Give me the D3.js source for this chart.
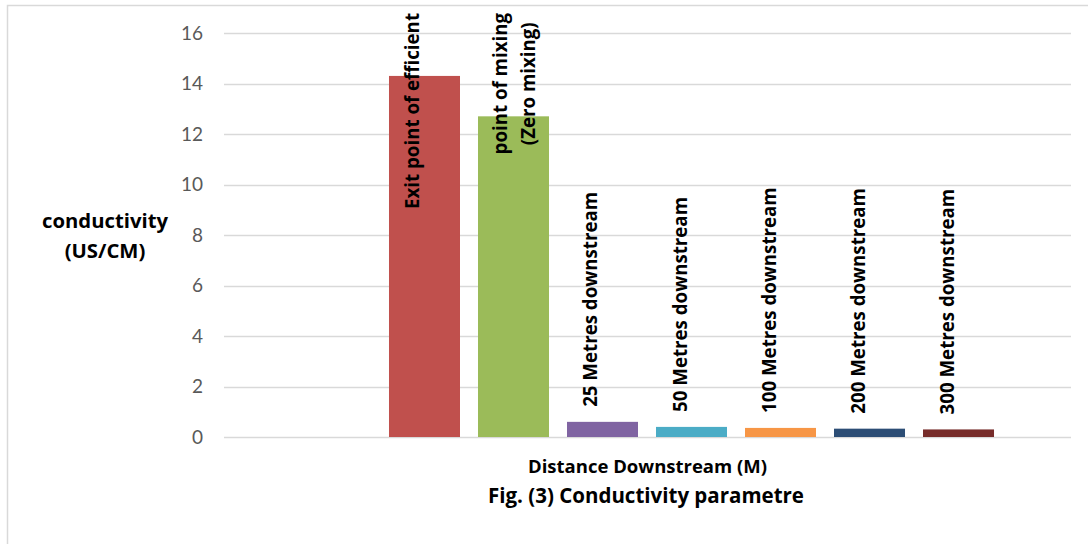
<!DOCTYPE html>
<html>
<head>
<meta charset="utf-8">
<script src="https://cdn.jsdelivr.net/npm/d3@7"></script>
<style>
  html, body { margin: 0; padding: 0; background: #fff; }
  svg { display: block; }
</style>
</head>
<body>
<svg id="chart" width="1088" height="544"></svg>
<script>
// Conductivity readings along the stream
const categories = [
  "Exit point of efficient",
  "point of mixing\n(Zero mixing)",
  "25 Metres downstream",
  "50 Metres downstream",
  "100 Metres downstream",
  "200 Metres downstream",
  "300 Metres downstream"
];
const values = [14.3, 12.7, 0.6, 0.4, 0.36, 0.33, 0.3];
const colors = ["#C0504D", "#9BBB59", "#8064A2", "#4BACC6", "#F79646", "#2C4D75", "#772C2A"];
const yTicks = [0, 2, 4, 6, 8, 10, 12, 14, 16];

const yTitle = ["conductivity", "(US/CM)"];
const xTitle = "Distance Downstream (M)";
const figTitle = "Fig. (3) Conductivity parametre";

const svg = d3.select("#chart");
const FONT = "'Open Sans', Lato, 'Liberation Sans', sans-serif";
const TICK_FONT = "Lato, 'Open Sans', sans-serif";

// outer frame (top and left edges)
svg.append("path")
  .attr("d", "M7.5,544 L7.5,5.5 L1088,5.5")
  .attr("fill", "none")
  .attr("stroke", "#d9d9d9")
  .attr("stroke-width", 1.5);

const plot = { left: 224, right: 1071, top: 33, bottom: 437 };

const y = d3.scaleLinear().domain([0, 16]).range([plot.bottom, plot.top]);
const x = d3.scaleBand()
  .domain(categories)
  .range([380, 1003])
  .paddingInner(0.2022)
  .paddingOuter(0.101);

// gridlines
svg.append("g")
  .selectAll("line")
  .data(yTicks)
  .join("line")
  .attr("x1", plot.left).attr("x2", plot.right)
  .attr("y1", d => Math.round(y(d)) + 0.5).attr("y2", d => Math.round(y(d)) + 0.5)
  .attr("stroke", "#d9d9d9")
  .attr("stroke-width", 1.5);

// y axis tick labels
const yAxis = d3.axisLeft(y).tickValues(yTicks).tickSize(0).tickPadding(0);
const gy = svg.append("g").attr("transform", "translate(203,0)").call(yAxis);
gy.select(".domain").remove();
gy.selectAll("text")
  .attr("font-family", TICK_FONT)
  .attr("font-size", 19)
  .attr("fill", "#595959");

// bars
svg.append("g")
  .selectAll("rect")
  .data(categories)
  .join("rect")
  .attr("x", d => x(d))
  .attr("width", x.bandwidth())
  .attr("y", (d, i) => y(values[i]))
  .attr("height", (d, i) => y(0) - y(values[i]))
  .attr("fill", (d, i) => colors[i]);

// rotated data labels above each bar, kept inside the chart top
const labelTop = 13;
const labels = svg.append("g");
categories.forEach((name, i) => {
  const lines = name.split("\n");
  const cx = x(name) + x.bandwidth() / 2;
  const g = labels.append("g");
  const texts = lines.map((line, j) =>
    g.append("text")
      .attr("font-family", FONT)
      .attr("font-weight", "bold")
      .attr("font-size", 18.7)
      .attr("fill", "#000")
      .attr("text-anchor", "middle")
      .text(line)
  );
  const lens = texts.map(t => t.node().getComputedTextLength());
  const maxLen = d3.max(lens);
  let bottom = y(values[i]) - 15;
  if (bottom - maxLen < labelTop) bottom = labelTop + maxLen;
  const mid = bottom - maxLen / 2;
  texts.forEach((t, j) => {
    const bx = lines.length > 1 ? cx - 6 + j * 28 : cx - 5;
    t.attr("transform", `translate(${bx},${mid}) rotate(-90)`);
  });
});

// axis titles
const yt = svg.append("text")
  .attr("font-family", FONT)
  .attr("font-weight", "bold")
  .attr("font-size", 20.3)
  .attr("fill", "#000")
  .attr("text-anchor", "middle");
yTitle.forEach((t, j) => {
  yt.append("tspan").attr("x", 105).attr("y", 228 + j * 30).text(t);
});

svg.append("text")
  .attr("x", (plot.left + plot.right) / 2)
  .attr("y", 473)
  .attr("font-family", FONT)
  .attr("font-weight", "bold")
  .attr("font-size", 18.5)
  .attr("text-anchor", "middle")
  .text(xTitle);

svg.append("text")
  .attr("x", 646)
  .attr("y", 503)
  .attr("font-family", FONT)
  .attr("font-weight", "bold")
  .attr("font-size", 20.5)
  .attr("text-anchor", "middle")
  .text(figTitle);
</script>
</body>
</html>
